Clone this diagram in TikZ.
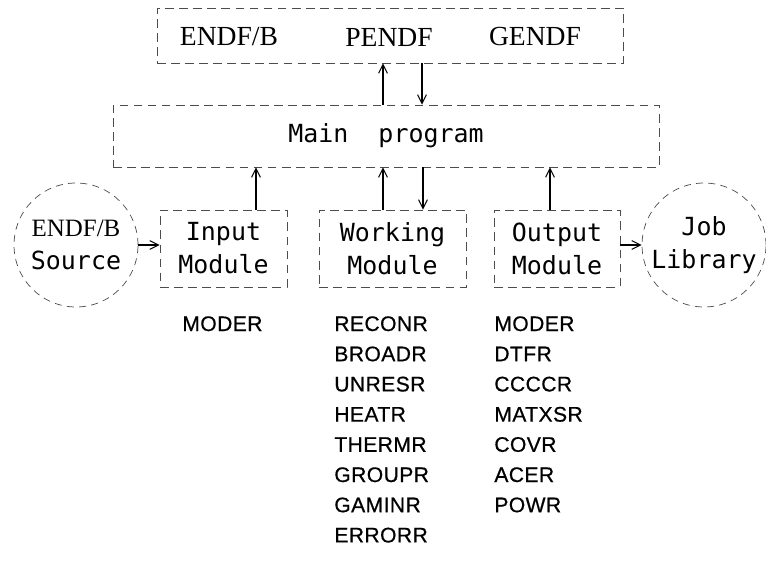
\documentclass[tikz,border=0pt]{standalone}
\usepackage{fontspec}
\setmainfont{Liberation Serif}
\newfontfamily\kastenfont{DejaVu Sans Mono}
\newfontfamily\listefont{Liberation Sans}[LetterSpace=2,FakeBold=0.6]
\usetikzlibrary{arrows.meta}

\tikzset{
    kasten/.style={draw=black!70, thin, dash pattern=on 5pt off 3pt, inner sep=0pt,
        align=center, font=\kastenfont\fontsize{14.2}{18.8}\selectfont},
    kreis/.style={circle, draw=black!70, thin, dash pattern=on 4pt off 3pt, inner sep=0pt,
        minimum size=2.48cm, align=center, font=\kastenfont\fontsize{14.2}{18.8}\selectfont},
    datei/.style={font=\fontsize{15.7}{18}\selectfont},
    liste/.style={anchor=base west, inner sep=0pt, font=\listefont\fontsize{12}{14}\selectfont},
    pfeil/.style={-{Straight Barb[length=5pt,width=5pt]}, line width=0.6pt}
}

\begin{document}
\begin{tikzpicture}[x=0.02cm, y=-0.02cm]
    \useasboundingbox (0,0) rectangle (766,564);
    \path node[kasten, minimum width=9.32cm, minimum height=1.1cm] (dateien) at (390,35.5) {}
        node[datei] (endfb) at (229,37) {ENDF/B}
        node[datei] (pendf) at (389,37) {PENDF}
        node[datei] (gendf) at (535,37) {GENDF}
        node[kasten, minimum width=10.92cm, minimum height=1.24cm] (main) at (386,136) {Main\ \ program}
        node[kasten, minimum width=2.54cm, minimum height=1.54cm] (input) at (223.5,248.5) {Input\\Module}
        node[kasten, minimum width=2.94cm, minimum height=1.54cm] (working) at (392.5,248.5) {Working\\Module}
        node[kasten, minimum width=2.52cm, minimum height=1.54cm] (output) at (557,248.5) {Output\\Module}
        node[kreis] (source) at (76,245) {\rmfamily ENDF/B\\Source}
        node[kreis] (job) at (704,245) {Job\\Library};
    % main program <-> dateien
    \draw[pfeil] ([xshift=-0.06cm]main.north) -- ([xshift=-0.06cm]main.north |- dateien.south);
    \draw[pfeil] ([xshift=0.72cm]main.north |- dateien.south) -- ([xshift=0.72cm]main.north);
    % module <-> main program
    \draw[pfeil] ([xshift=0.65cm]input.north) -- ([xshift=0.65cm]input.north |- main.south);
    \draw[pfeil] ([xshift=-0.19cm]working.north) -- ([xshift=-0.19cm]working.north |- main.south);
    \draw[pfeil] ([xshift=0.61cm]working.north |- main.south) -- ([xshift=0.61cm]working.north);
    \draw[pfeil] ([xshift=-0.14cm]output.north) -- ([xshift=-0.14cm]output.north |- main.south);
    % ein- und ausgabe
    \draw[pfeil] (source.east) -- (source.east -| input.west);
    \draw[pfeil] (output.east |- job.west) -- (job.west);
    % unterprogramme
    \node[liste] (moder) at (182,331) {MODER};
    \foreach \name [count=\i from 0] in {RECONR,BROADR,UNRESR,HEATR,THERMR,GROUPR,GAMINR,ERRORR}
        \node[liste] (w\i) at (334,331+30.2*\i) {\name};
    \foreach \name [count=\i from 0] in {MODER,DTFR,CCCCR,MATXSR,COVR,ACER,POWR}
        \node[liste] (o\i) at (494,331+30.2*\i) {\name};
\end{tikzpicture}
\end{document}
